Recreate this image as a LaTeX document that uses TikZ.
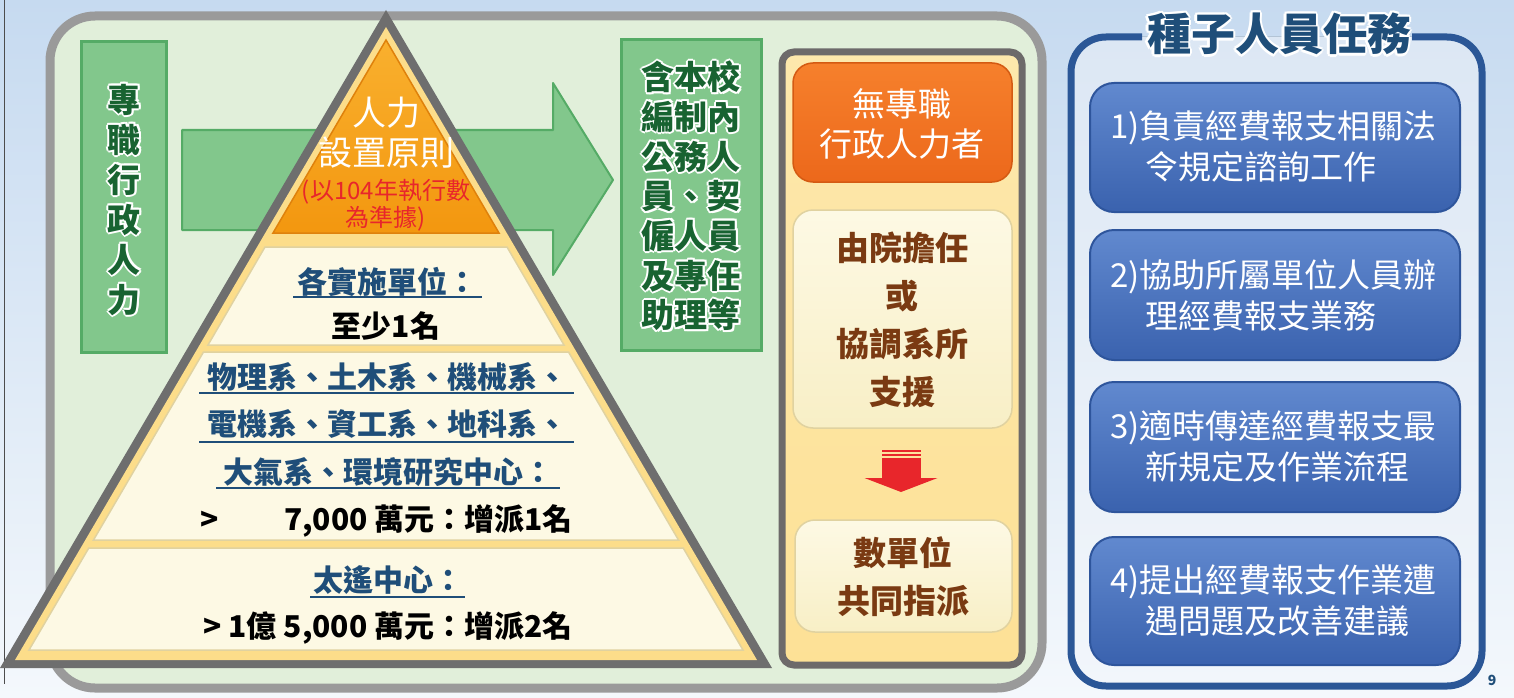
\documentclass[tikz,border=0pt]{standalone}
\usepackage{fontspec}
\setmainfont{Noto Sans CJK TC}
\usetikzlibrary{calc}
\definecolor{bgtop}{HTML}{C6DAF0}
\definecolor{bgbot}{HTML}{F4F8FC}
\definecolor{panelgray}{HTML}{9A9A9A}
\definecolor{panelgreen}{HTML}{E1EFDA}
\definecolor{barg}{HTML}{82C78C}
\definecolor{barged}{HTML}{55AB66}
\definecolor{dkgreen}{HTML}{186331}
\definecolor{pgray}{HTML}{6E6E6E}
\definecolor{pyellow}{HTML}{FCDD8A}
\definecolor{creamA}{HTML}{FDF9E4}
\definecolor{creamB}{HTML}{F8EFC6}
\definecolor{creamed}{HTML}{E0D2A0}
\definecolor{orangeA}{HTML}{F9B02E}
\definecolor{orangeB}{HTML}{F3970F}
\definecolor{orangeed}{HTML}{DF810B}
\definecolor{redt}{HTML}{E8262B}
\definecolor{navy}{HTML}{1F4E79}
\definecolor{frameg}{HTML}{6D6A6A}
\definecolor{panyA}{HTML}{FDE8AC}
\definecolor{panyB}{HTML}{FDE196}
\definecolor{boxorA}{HTML}{F6802C}
\definecolor{boxorB}{HTML}{EC681B}
\definecolor{boxored}{HTML}{D45A12}
\definecolor{brownt}{HTML}{7A3A12}
\definecolor{bluebd}{HTML}{2B5797}
\definecolor{blueA}{HTML}{6189CF}
\definecolor{blueB}{HTML}{3A62AE}
\definecolor{blueed}{HTML}{2E559C}
\definecolor{bluepanA}{HTML}{DCE7F4}
\definecolor{bluepanB}{HTML}{F2F6FB}
\tikzset{
  gbar/.style={draw=barged, line width=3pt, fill=barg},
  gtext/.style={text=dkgreen, align=center, font=\fontsize{33}{40}\selectfont\bfseries},
  rtext/.style={text=dkgreen, align=center, font=\fontsize{33}{39.7}\selectfont\bfseries},
  ttext/.style={text=navy, font=\fontsize{44}{48}\selectfont\bfseries},
  creamsec/.style={fill=creamA, draw=creamed, line width=1.5pt},
  secb/.style={text=navy, font=\fontsize{30}{34}\selectfont\bfseries},
  secblk/.style={text=black, font=\fontsize{30}{34}\selectfont\bfseries},
  ulin/.style={navy, line width=2.5pt},
  creambox/.style={rounded corners=20pt, top color=creamA, bottom color=creamB, draw=creamed, line width=1.5pt},
  browntext/.style={text=brownt, align=center, font=\fontsize{33}{48}\selectfont\bfseries},
  bluebox/.style={rounded corners=24pt, top color=blueA, bottom color=blueB, draw=blueed, line width=2pt, minimum width=370pt},
  btext/.style={text=white, anchor=west, font=\fontsize{33}{36}\selectfont},
}
\begin{document}
\begin{tikzpicture}[x=1pt,y=-1pt, every node/.style={inner sep=0pt, outer sep=0pt}]
\useasboundingbox (0,0) rectangle (1514,698);
% background
\path[top color=bgtop, bottom color=bgbot] (0,0) rectangle (1514,698);
\draw[black!70, line width=1pt] (4,0) -- (4,684);
% green panel
\draw[panelgray, line width=9pt, fill=panelgreen, rounded corners=45pt] (50,16) rectangle (1042,688);
% left bar
\node[gbar, minimum width=85pt, minimum height=310pt] (leftbar) at (124,197) {};
\foreach \i/\dx/\dy in {1/2/0,2/-2/0,3/0/2,4/0/-2,5/1.5/1.5,6/-1.5/1.5,7/1.5/-1.5,8/-1.5/-1.5}
  \node[gtext, text=white] (lefthalo\i) at (124+\dx,200+\dy) {專\\職\\行\\政\\人\\力};
\node[gtext] (lefttext) at (124,200) {專\\職\\行\\政\\人\\力};
% right bar
\node[gbar, minimum width=140pt, minimum height=310pt] (rightbar) at (691,195) {};
\foreach \i/\dx/\dy in {1/2/0,2/-2/0,3/0/2,4/0/-2,5/1.5/1.5,6/-1.5/1.5,7/1.5/-1.5,8/-1.5/-1.5}
  \node[rtext, text=white] (righthalo\i) at (691+\dx,196+\dy) {含本校\\編制內\\公務人\\員、契\\僱人員\\及專任\\助理等};
\node[rtext] (righttext) at (691,196) {含本校\\編制內\\公務人\\員、契\\僱人員\\及專任\\助理等};
% big arrow
\draw[fill=barg, draw=barged, line width=2pt, line join=round] (182,130) -- (553,130) -- (553,83) -- (613,180) -- (553,275) -- (553,230) -- (182,230) -- cycle;
% pyramid
\fill[pgray] (386,10) -- (772,668) -- (0,668) -- cycle;
\fill[pyellow] (386,27) -- (757,660) -- (15,660) -- cycle;
\draw[top color=orangeA, bottom color=orangeB, draw=orangeed, line width=1.5pt] (386,40) -- (499,233) -- (273,233) -- cycle;
\draw[creamsec] (265,247) -- (507,247) -- (564,345) -- (208,345) -- cycle;
\draw[creamsec] (203.5,352) -- (568.5,352) -- (678.5,540) -- (93.5,540) -- cycle;
\draw[creamsec] (88.8,548) -- (683.2,548) -- (743,650) -- (29,650) -- cycle;
% pyramid texts
\node[text=white, align=center, font=\fontsize{34}{40}\selectfont] (ptop) at (386,133) {人力\\設置原則};
\node[text=redt, align=center, font=\fontsize{24}{27}\selectfont] (pred) at (386,205) {(以104年執行數\\為準據)};
\node[secb] (s2a) at (387,282) {各實施單位：};
\draw[ulin] (293,297) -- (482,297);
\node[secblk] (s2b) at (386,326) {至少1名};
\node[secb] (s3a) at (387,377) {物理系、土木系、機械系、};
\draw[ulin] (199,393) -- (574,393);
\node[secb] (s3b) at (387,424) {電機系、資工系、地科系、};
\draw[ulin] (199,442) -- (574,442);
\node[secb] (s3c) at (388,472) {大氣系、環境研究中心：};
\draw[ulin] (216,488) -- (560,488);
\node[secblk, anchor=west] (s3gt) at (200,521) {>};
\node[secblk, anchor=west] (s3d) at (284,521) {7,000 萬元：增派1名};
\node[secb] (s4a) at (388,580) {太遙中心：};
\draw[ulin] (310,597) -- (465,597);
\node[secblk] (s4b) at (388,628) {> 1億 5,000 萬元：增派2名};
% middle frame
\draw[frameg, line width=7pt, top color=panyA, bottom color=panyB, rounded corners=12pt] (782,52) rectangle (1022,665);
\node[rounded corners=20pt, top color=boxorA, bottom color=boxorB, draw=boxored, line width=1.5pt, minimum width=219pt, minimum height=119pt] (nobox) at (902.5,122.5) {};
\node[text=white, align=center, font=\fontsize{33}{40}\selectfont] (notext) at (902,124) {無專職\\行政人力者};
\node[creambox, minimum width=219pt, minimum height=218pt] (yuan) at (902.5,319) {};
\node[browntext] (yuantext) at (902,320) {由院擔任\\或\\協調系所\\支援};
\node[creambox, minimum width=217pt, minimum height=112pt] (multi) at (903.5,576) {};
\node[browntext] (multitext) at (903,577) {數單位\\共同指派};
% red arrow
\fill[redt] (881.5,450) rectangle (920.5,452.2);
\fill[redt] (881.5,453.8) rectangle (920.5,456);
\fill[redt] (881.5,457.5) rectangle (920.5,478.5);
\fill[redt] (864.5,478) -- (937.5,478) -- (901,492) -- cycle;
% blue panel
\fill[top color=bluepanA, bottom color=bluepanB, rounded corners=35pt] (1071,37) rectangle (1482,686);
\draw[bluebd, line width=7pt, rounded corners=35pt] (1142,37) -- (1071,37) -- (1071,686) -- (1482,686) -- (1482,37) -- (1412,37);
\foreach \i/\dx/\dy in {1/2.5/0,2/-2.5/0,3/0/2.5,4/0/-2.5,5/1.8/1.8,6/-1.8/1.8,7/1.8/-1.8,8/-1.8/-1.8}
  \node[ttext, text=white] (titlehalo\i) at (1279+\dx,34+\dy) {種子人員任務};
\node[ttext] (title) at (1279,34) {種子人員任務};
\node[bluebox, minimum height=129pt] (b1) at (1275,147.5) {};
\node[btext] (b1a) at (1110,128) {1)負責經費報支相關法};
\node[btext] (b1b) at (1145,167) {令規定諮詢工作};
\node[bluebox, minimum height=130pt] (b2) at (1275,295) {};
\node[btext] (b2a) at (1110,277) {2)協助所屬單位人員辦};
\node[btext] (b2b) at (1145,316) {理經費報支業務};
\node[bluebox, minimum height=130pt] (b3) at (1275,447) {};
\node[btext] (b3a) at (1110,428) {3)適時傳達經費報支最};
\node[btext] (b3b) at (1145,467) {新規定及作業流程};
\node[bluebox, minimum height=128pt] (b4) at (1275,601) {};
\node[btext] (b4a) at (1110,582) {4)提出經費報支作業遭};
\node[btext] (b4b) at (1145,621) {遇問題及改善建議};
\node[text=navy, font=\fontsize{14}{16}\selectfont\bfseries] (pg) at (1492,680) {9};
\end{tikzpicture}
\end{document}
